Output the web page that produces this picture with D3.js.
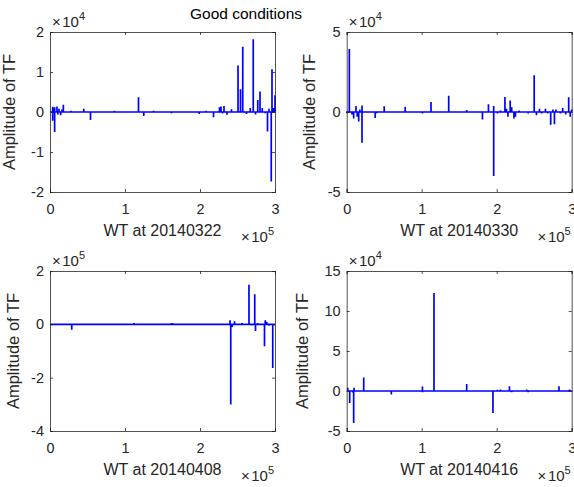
<!DOCTYPE html>
<html>
<head>
<meta charset="utf-8">
<script src="https://cdn.jsdelivr.net/npm/d3@7"></script>
<style>
  body { margin: 0; background: #fff; }
  text { font-family: "Liberation Sans", Arial, sans-serif; }
</style>
</head>
<body>
<svg id="fig" width="574" height="487"></svg>
<script>
// ---- data ----
var figTitle = "Good conditions";
var xLabels = ["WT at 20140322", "WT at 20140330", "WT at 20140408", "WT at 20140416"];
var yLabel = "Amplitude of TF";

var xTicks = [0, 1e5, 2e5, 3e5];
var xExp = 5;

var yTicks1 = [-2e4, -1e4, 0, 1e4, 2e4];
var yTicks2 = [-5e4, 0, 5e4];
var yTicks3 = [-4e5, -2e5, 0, 2e5];
var yTicks4 = [-5e4, 0, 5e4, 10e4, 15e4];
var yExps = [4, 4, 5, 4];

// spikes as [WT, amplitude]
var spikes1 = [
  [3600, -2200], [3600, 1300], [4900, 1000], [6200, -5000], [6200, 1200], [9300, 1400],
  [10500, -600], [12000, 800], [14200, -800], [16000, 600], [17800, 1800], [28000, 300],
  [36000, 200], [45000, 800], [54000, -2000], [62000, 200], [86000, 300], [118000, 3700],
  [125000, -1000], [138000, 300], [150000, 200], [162000, -300], [170000, 200], [185000, 200],
  [199000, -500], [208000, 300], [218000, -1300], [226000, 1200], [228000, 1400], [230000, -400],
  [232000, 1500], [236000, -700], [242000, 700], [250700, 11600], [254000, 5700], [257000, 16300],
  [262000, -500], [267000, 1000], [271000, 18200], [274000, -600], [277000, 3000], [280000, 5100],
  [283000, 1000], [287000, -300], [290000, -4900], [292000, 800], [295000, -17400], [296000, 10700],
  [298000, 1000], [300000, 4200]
];
var spikes2 = [
  [300, -800], [3500, 39400], [5000, 500], [7000, -1500], [9300, -4000], [12400, 3700],
  [14000, -3000], [16000, -6000], [17500, 1500], [20400, 4000], [20400, -19200], [24000, 500],
  [38000, -3700], [40000, -800], [50000, 3600], [56000, 500], [62000, 300], [78000, 3300],
  [90000, 500], [101000, -1000], [112400, 6200], [120000, 300], [126000, 500], [136000, 10200],
  [150000, 300], [160000, 1200], [170000, 500], [178000, 500], [181000, -4700], [189000, 4800],
  [196000, -40000], [196000, 3700], [201000, -1000], [205000, 1000], [211000, 9400], [213000, 2000],
  [215000, -3000], [218000, 7200], [220000, 3000], [223000, -4000], [225000, -3000], [230000, 1000],
  [236000, 500], [242000, -1000], [250000, 22900], [253000, -2000], [257000, 2000], [260000, -1000],
  [265000, 2000], [268000, -1000], [272000, -7900], [275000, 1500], [277000, -7700], [279000, 1500],
  [285000, -1000], [288000, 2500], [292000, -1500], [296000, 9200], [298000, -3000], [300000, 1500]
];
var spikes3 = [
  [8000, 3000], [12000, 2000], [27000, 2000], [29000, -20000], [37000, 3000], [76000, 1500],
  [112000, 5000], [114000, 3000], [162000, 5000], [164000, 4000], [194000, -2000], [209000, 2000],
  [232000, -2000], [240000, 15000], [241000, -301000], [243000, -10000], [246000, 12000],
  [250000, -3000], [256000, 5000], [260000, 3000], [265300, 148000], [269000, -4000],
  [273000, 113000], [274000, -25000], [277000, 5000], [280000, -3000], [286000, -82000],
  [287000, 15000], [289000, 10000], [292000, -5000], [297000, -164000], [299000, 3000]
];
var spikes4 = [
  [1500, 4000], [4000, -15000], [6000, 1000], [8000, -2000], [9300, -40000], [9800, 4000],
  [14000, 1000], [22700, 17000], [30000, 1000], [45000, 500], [59500, -4500], [75000, 500],
  [90000, 800], [101000, 5500], [101000, -1500], [110000, 500], [116400, 122500], [125000, 500],
  [140000, 500], [150000, -1000], [160000, 8700], [170000, 500], [184000, -500], [195000, -27500],
  [201000, 1500], [205000, 2000], [210000, 500], [217000, 6000], [220000, -1500], [227000, 1000],
  [240000, 2000], [242000, -1500], [248000, 1000], [256000, -1000], [262000, -1000], [270000, 500],
  [283000, 6000], [286000, -1000], [297000, 2000], [300000, 500]
];

// ---- layout ----
var svg = d3.select("#fig");
svg.append("rect").attr("width", 574).attr("height", 487).attr("fill", "#fff");

var panels = [
  {l: 50, t: 32, spikes: spikes1, yTicks: yTicks1, lab: xLabels[0], exp: yExps[0], yl: 35},
  {l: 346.7, t: 32, spikes: spikes2, yTicks: yTicks2, lab: xLabels[1], exp: yExps[1], yl: 32},
  {l: 50, t: 271, spikes: spikes3, yTicks: yTicks3, lab: xLabels[2], exp: yExps[2], yl: 31},
  {l: 346.7, t: 271, spikes: spikes4, yTicks: yTicks4, lab: xLabels[3], exp: yExps[3], yl: 39}
];
var W = 225, H = 160;
var axisCol = "#262626";

svg.append("text")
  .attr("x", 246).attr("y", 19)
  .attr("text-anchor", "middle")
  .attr("font-size", 15.5)
  .attr("fill", "#000")
  .text(figTitle);

// "×10^n" marker
function expText(sel, n) {
  sel.append("tspan").text("\u00d7");
  sel.append("tspan").attr("dx", 1.5).text("10");
  sel.append("tspan").attr("dy", -7).attr("font-size", 11).text(n);
}

panels.forEach(function (p) {
  var g = svg.append("g").attr("transform", "translate(" + p.l + "," + p.t + ")");
  var yExt = d3.extent(p.yTicks);
  var x = d3.scaleLinear().domain([0, 3e5]).range([0, W]);
  var y = d3.scaleLinear().domain(yExt).range([H, 0]);
  var sc = Math.pow(10, p.exp);

  // signal: go back to zero between spikes
  var sorted = p.spikes.slice().sort(function (a, b) { return a[0] - b[0]; });
  var pts = [[0, 0]];
  sorted.forEach(function (d) {
    pts.push([d[0], 0], [d[0], d[1]], [d[0], 0]);
  });
  pts.push([3e5, 0]);
  var line = d3.line().x(function (d) { return x(d[0]); }).y(function (d) { return y(d[1]); });
  g.append("path")
    .attr("d", line(pts))
    .attr("fill", "none")
    .attr("stroke", "#0000ff")
    .attr("stroke-width", 1.7);

  // axes (box with inward ticks)
  var bottom = g.append("g").attr("transform", "translate(0," + H + ")")
    .call(d3.axisBottom(x).tickValues(xTicks).tickSize(-3).tickPadding(12)
      .tickFormat(function (d) { return d / 1e5; }));
  var left = g.append("g")
    .call(d3.axisLeft(y).tickValues(p.yTicks).tickSize(-3).tickPadding(6)
      .tickFormat(function (d) { return Math.round(d / sc); }));
  var top = g.append("g")
    .call(d3.axisTop(x).tickValues(xTicks).tickSize(-3).tickFormat(""));
  var right = g.append("g").attr("transform", "translate(" + W + ",0)")
    .call(d3.axisRight(y).tickValues(p.yTicks).tickSize(-3).tickFormat(""));

  [bottom, left, top, right].forEach(function (a) {
    a.select(".domain").attr("stroke", axisCol).attr("stroke-width", 0.8);
    a.selectAll(".tick line").attr("stroke", axisCol).attr("stroke-width", 0.8);
    a.selectAll(".tick text").attr("fill", axisCol).attr("font-size", 14.5)
      .style("font-family", "'Liberation Sans', Arial, sans-serif");
  });

  // x label
  g.append("text")
    .attr("x", W / 2).attr("y", H + 44)
    .attr("text-anchor", "middle")
    .attr("font-size", 16)
    .attr("fill", axisCol)
    .text(p.lab);

  // y label
  g.append("text")
    .attr("transform", "translate(" + (-p.yl) + "," + (H / 2) + ") rotate(-90)")
    .attr("text-anchor", "middle")
    .attr("font-size", 16.5)
    .attr("fill", axisCol)
    .text(yLabel);

  // exponent markers
  var ye = g.append("text")
    .attr("x", 2).attr("y", -5)
    .attr("font-size", 15)
    .attr("fill", axisCol);
  expText(ye, p.exp);

  var xe = g.append("text")
    .attr("x", W - 1).attr("y", H + 50)
    .attr("text-anchor", "end")
    .attr("font-size", 15)
    .attr("fill", axisCol);
  expText(xe, xExp);
});
</script>
</body>
</html>
